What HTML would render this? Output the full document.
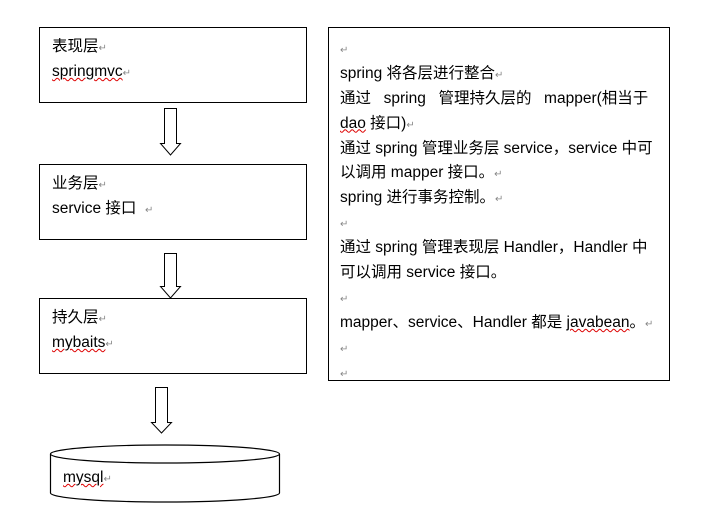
<!DOCTYPE html>
<html><head><meta charset="utf-8"><style>
body{margin:0;width:710px;height:514px;background:#fff;position:relative;overflow:hidden;font-family:"Liberation Sans","Noto Sans CJK SC",sans-serif;font-size:15.5px;color:#000}
.b{position:absolute;border:1.3px solid #000;box-sizing:border-box}
.t{position:absolute;white-space:nowrap}
.t div{height:24.9px;line-height:24.9px}
.r{color:#888;font-size:10px}
.u{text-decoration:underline wavy #d00;text-decoration-thickness:1px}
</style></head><body>
<div class="b" style="left:39px;top:27px;width:268px;height:76px"></div>
<div class="b" style="left:39px;top:164px;width:268px;height:76px"></div>
<div class="b" style="left:39px;top:298px;width:268px;height:76px"></div>
<div class="b" style="left:328px;top:27px;width:342px;height:354px"></div>
<div class="t" style="left:52px;top:35px"><div>表现层<span class="r">↵</span></div><div><span class="u">springmvc</span><span class="r">↵</span></div></div>
<div class="t" style="left:52px;top:172px"><div>业务层<span class="r">↵</span></div><div>service 接口 &nbsp;<span class="r">↵</span></div></div>
<div class="t" style="left:52px;top:306px"><div>持久层<span class="r">↵</span></div><div><span class="u">mybaits</span><span class="r">↵</span></div></div>
<div class="t" style="left:340px;top:37px">
<div><span class="r">↵</span></div>
<div>spring 将各层进行整合<span class="r">↵</span></div>
<div style="word-spacing:2px">通过&nbsp; spring&nbsp; 管理持久层的&nbsp; mapper(相当于</div>
<div><span class="u">dao</span> 接口)<span class="r">↵</span></div>
<div>通过 spring 管理业务层 service，service 中可</div>
<div>以调用 mapper 接口。<span class="r">↵</span></div>
<div>spring 进行事务控制。<span class="r">↵</span></div>
<div><span class="r">↵</span></div>
<div>通过 spring 管理表现层 Handler，Handler 中</div>
<div>可以调用 service 接口。</div>
<div><span class="r">↵</span></div>
<div>mapper、service、Handler 都是 <span class="u">javabean</span>。<span class="r">↵</span></div>
<div><span class="r">↵</span></div>
<div><span class="r">↵</span></div>
</div>
<svg width="710" height="514" style="position:absolute;left:0;top:0" fill="#fff" stroke="#000" stroke-width="1">
<path d="M164.5 108.5 H176.5 V143.5 H180.5 L170.5 155 L160.5 143.5 H164.5 Z"/>
<path d="M164.5 253.5 H176.5 V286.5 H180.5 L170.5 298 L160.5 286.5 H164.5 Z"/>
<path d="M155.5 387.5 H167.5 V422.5 H171.5 L161.5 433 L151.5 422.5 H155.5 Z"/>
<path d="M50.5 454 V493 A114.5 9 0 0 0 279.5 493 V454" stroke-width="1.2"/>
<ellipse cx="165" cy="454" rx="114.5" ry="9" stroke-width="1.2"/>
</svg>
<div class="t" style="left:63px;top:466px;line-height:24px"><span class="u">mysql</span><span class="r">↵</span></div>
</body></html>
